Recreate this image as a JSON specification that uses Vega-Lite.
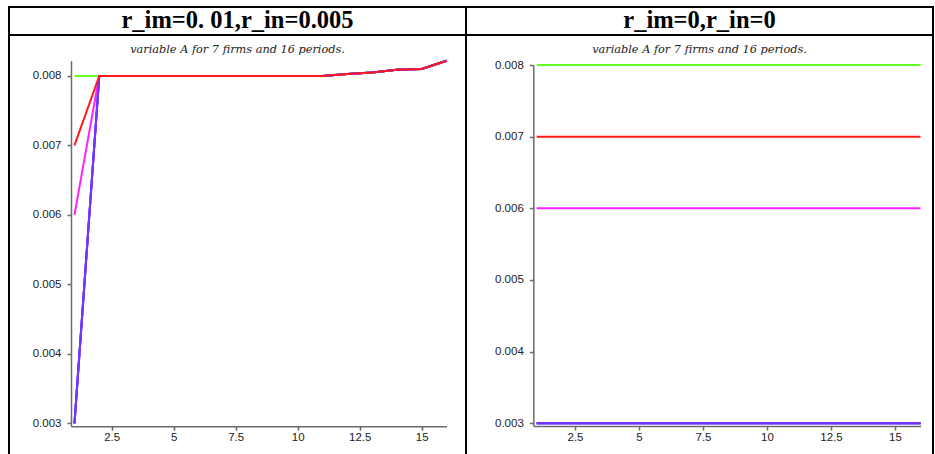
{
  "$schema": "https://vega.github.io/schema/vega-lite/v6.json",
  "padding": {"left": 8, "top": 6, "right": 0, "bottom": 0},
  "autosize": {"type": "pad"},
  "background": "white",
  "config": {
    "view": {"stroke": "#000000", "strokeWidth": 2},
    "axis": {"grid": false, "title": null, "domainColor": "#6b6b6b", "domainWidth": 1.5, "tickColor": "#6b6b6b", "tickWidth": 1.5, "tickSize": 4, "labelFont": "Liberation Sans", "labelFontSize": 11.5, "labelColor": "#222222"},
    "title": {"font": "DejaVu Serif", "fontStyle": "italic", "fontWeight": "normal", "fontSize": 11.3, "color": "#222222", "anchor": "middle", "frame": "group", "offset": -20, "baseline": "alphabetic"}
  },
  "datasets": {
    "titles": [{"panel": "L", "label": "r_im=0. 01,r_in=0.005"}, {"panel": "R", "label": "r_im=0,r_in=0"}],
    "left": [
      {"f":"F1","t":1,"A":0.008},{"f":"F1","t":2,"A":0.008},{"f":"F1","t":3,"A":0.008},{"f":"F1","t":4,"A":0.008},{"f":"F1","t":5,"A":0.008},{"f":"F1","t":6,"A":0.008},{"f":"F1","t":7,"A":0.008},{"f":"F1","t":8,"A":0.008},{"f":"F1","t":9,"A":0.008},{"f":"F1","t":10,"A":0.008},{"f":"F1","t":11,"A":0.008},{"f":"F1","t":12,"A":0.00803},{"f":"F1","t":13,"A":0.00805},{"f":"F1","t":14,"A":0.00809},{"f":"F1","t":15,"A":0.0081},{"f":"F1","t":16,"A":0.00822},
      {"f":"F2","t":1,"A":0.006},{"f":"F2","t":2,"A":0.008},{"f":"F2","t":3,"A":0.008},{"f":"F2","t":4,"A":0.008},{"f":"F2","t":5,"A":0.008},{"f":"F2","t":6,"A":0.008},{"f":"F2","t":7,"A":0.008},{"f":"F2","t":8,"A":0.008},{"f":"F2","t":9,"A":0.008},{"f":"F2","t":10,"A":0.008},{"f":"F2","t":11,"A":0.008},{"f":"F2","t":12,"A":0.00803},{"f":"F2","t":13,"A":0.00805},{"f":"F2","t":14,"A":0.00809},{"f":"F2","t":15,"A":0.0081},{"f":"F2","t":16,"A":0.00822},
      {"f":"F3","t":1,"A":0.003},{"f":"F3","t":2,"A":0.008},{"f":"F3","t":3,"A":0.008},{"f":"F3","t":4,"A":0.008},{"f":"F3","t":5,"A":0.008},{"f":"F3","t":6,"A":0.008},{"f":"F3","t":7,"A":0.008},{"f":"F3","t":8,"A":0.008},{"f":"F3","t":9,"A":0.008},{"f":"F3","t":10,"A":0.008},{"f":"F3","t":11,"A":0.008},{"f":"F3","t":12,"A":0.00803},{"f":"F3","t":13,"A":0.00805},{"f":"F3","t":14,"A":0.00809},{"f":"F3","t":15,"A":0.0081},{"f":"F3","t":16,"A":0.00822},
      {"f":"F4","t":1,"A":0.003},{"f":"F4","t":2,"A":0.008},{"f":"F4","t":3,"A":0.008},{"f":"F4","t":4,"A":0.008},{"f":"F4","t":5,"A":0.008},{"f":"F4","t":6,"A":0.008},{"f":"F4","t":7,"A":0.008},{"f":"F4","t":8,"A":0.008},{"f":"F4","t":9,"A":0.008},{"f":"F4","t":10,"A":0.008},{"f":"F4","t":11,"A":0.008},{"f":"F4","t":12,"A":0.00803},{"f":"F4","t":13,"A":0.00805},{"f":"F4","t":14,"A":0.00809},{"f":"F4","t":15,"A":0.0081},{"f":"F4","t":16,"A":0.00822},
      {"f":"F5","t":1,"A":0.003},{"f":"F5","t":2,"A":0.008},{"f":"F5","t":3,"A":0.008},{"f":"F5","t":4,"A":0.008},{"f":"F5","t":5,"A":0.008},{"f":"F5","t":6,"A":0.008},{"f":"F5","t":7,"A":0.008},{"f":"F5","t":8,"A":0.008},{"f":"F5","t":9,"A":0.008},{"f":"F5","t":10,"A":0.008},{"f":"F5","t":11,"A":0.008},{"f":"F5","t":12,"A":0.00803},{"f":"F5","t":13,"A":0.00805},{"f":"F5","t":14,"A":0.00809},{"f":"F5","t":15,"A":0.0081},{"f":"F5","t":16,"A":0.00822},
      {"f":"F6","t":1,"A":0.003},{"f":"F6","t":2,"A":0.008},{"f":"F6","t":3,"A":0.008},{"f":"F6","t":4,"A":0.008},{"f":"F6","t":5,"A":0.008},{"f":"F6","t":6,"A":0.008},{"f":"F6","t":7,"A":0.008},{"f":"F6","t":8,"A":0.008},{"f":"F6","t":9,"A":0.008},{"f":"F6","t":10,"A":0.008},{"f":"F6","t":11,"A":0.008},{"f":"F6","t":12,"A":0.00803},{"f":"F6","t":13,"A":0.00805},{"f":"F6","t":14,"A":0.00809},{"f":"F6","t":15,"A":0.0081},{"f":"F6","t":16,"A":0.00822},
      {"f":"F7","t":1,"A":0.007},{"f":"F7","t":2,"A":0.008},{"f":"F7","t":3,"A":0.008},{"f":"F7","t":4,"A":0.008},{"f":"F7","t":5,"A":0.008},{"f":"F7","t":6,"A":0.008},{"f":"F7","t":7,"A":0.008},{"f":"F7","t":8,"A":0.008},{"f":"F7","t":9,"A":0.008},{"f":"F7","t":10,"A":0.008},{"f":"F7","t":11,"A":0.008},{"f":"F7","t":12,"A":0.00803},{"f":"F7","t":13,"A":0.00805},{"f":"F7","t":14,"A":0.00809},{"f":"F7","t":15,"A":0.0081},{"f":"F7","t":16,"A":0.00822}
    ],
    "right": [
      {"f":"F1","t":1,"A":0.008},{"f":"F1","t":2,"A":0.008},{"f":"F1","t":3,"A":0.008},{"f":"F1","t":4,"A":0.008},{"f":"F1","t":5,"A":0.008},{"f":"F1","t":6,"A":0.008},{"f":"F1","t":7,"A":0.008},{"f":"F1","t":8,"A":0.008},{"f":"F1","t":9,"A":0.008},{"f":"F1","t":10,"A":0.008},{"f":"F1","t":11,"A":0.008},{"f":"F1","t":12,"A":0.008},{"f":"F1","t":13,"A":0.008},{"f":"F1","t":14,"A":0.008},{"f":"F1","t":15,"A":0.008},{"f":"F1","t":16,"A":0.008},
      {"f":"F2","t":1,"A":0.006},{"f":"F2","t":2,"A":0.006},{"f":"F2","t":3,"A":0.006},{"f":"F2","t":4,"A":0.006},{"f":"F2","t":5,"A":0.006},{"f":"F2","t":6,"A":0.006},{"f":"F2","t":7,"A":0.006},{"f":"F2","t":8,"A":0.006},{"f":"F2","t":9,"A":0.006},{"f":"F2","t":10,"A":0.006},{"f":"F2","t":11,"A":0.006},{"f":"F2","t":12,"A":0.006},{"f":"F2","t":13,"A":0.006},{"f":"F2","t":14,"A":0.006},{"f":"F2","t":15,"A":0.006},{"f":"F2","t":16,"A":0.006},
      {"f":"F3","t":1,"A":0.003},{"f":"F3","t":2,"A":0.003},{"f":"F3","t":3,"A":0.003},{"f":"F3","t":4,"A":0.003},{"f":"F3","t":5,"A":0.003},{"f":"F3","t":6,"A":0.003},{"f":"F3","t":7,"A":0.003},{"f":"F3","t":8,"A":0.003},{"f":"F3","t":9,"A":0.003},{"f":"F3","t":10,"A":0.003},{"f":"F3","t":11,"A":0.003},{"f":"F3","t":12,"A":0.003},{"f":"F3","t":13,"A":0.003},{"f":"F3","t":14,"A":0.003},{"f":"F3","t":15,"A":0.003},{"f":"F3","t":16,"A":0.003},
      {"f":"F4","t":1,"A":0.003},{"f":"F4","t":2,"A":0.003},{"f":"F4","t":3,"A":0.003},{"f":"F4","t":4,"A":0.003},{"f":"F4","t":5,"A":0.003},{"f":"F4","t":6,"A":0.003},{"f":"F4","t":7,"A":0.003},{"f":"F4","t":8,"A":0.003},{"f":"F4","t":9,"A":0.003},{"f":"F4","t":10,"A":0.003},{"f":"F4","t":11,"A":0.003},{"f":"F4","t":12,"A":0.003},{"f":"F4","t":13,"A":0.003},{"f":"F4","t":14,"A":0.003},{"f":"F4","t":15,"A":0.003},{"f":"F4","t":16,"A":0.003},
      {"f":"F5","t":1,"A":0.003},{"f":"F5","t":2,"A":0.003},{"f":"F5","t":3,"A":0.003},{"f":"F5","t":4,"A":0.003},{"f":"F5","t":5,"A":0.003},{"f":"F5","t":6,"A":0.003},{"f":"F5","t":7,"A":0.003},{"f":"F5","t":8,"A":0.003},{"f":"F5","t":9,"A":0.003},{"f":"F5","t":10,"A":0.003},{"f":"F5","t":11,"A":0.003},{"f":"F5","t":12,"A":0.003},{"f":"F5","t":13,"A":0.003},{"f":"F5","t":14,"A":0.003},{"f":"F5","t":15,"A":0.003},{"f":"F5","t":16,"A":0.003},
      {"f":"F6","t":1,"A":0.003},{"f":"F6","t":2,"A":0.003},{"f":"F6","t":3,"A":0.003},{"f":"F6","t":4,"A":0.003},{"f":"F6","t":5,"A":0.003},{"f":"F6","t":6,"A":0.003},{"f":"F6","t":7,"A":0.003},{"f":"F6","t":8,"A":0.003},{"f":"F6","t":9,"A":0.003},{"f":"F6","t":10,"A":0.003},{"f":"F6","t":11,"A":0.003},{"f":"F6","t":12,"A":0.003},{"f":"F6","t":13,"A":0.003},{"f":"F6","t":14,"A":0.003},{"f":"F6","t":15,"A":0.003},{"f":"F6","t":16,"A":0.003},
      {"f":"F7","t":1,"A":0.007},{"f":"F7","t":2,"A":0.007},{"f":"F7","t":3,"A":0.007},{"f":"F7","t":4,"A":0.007},{"f":"F7","t":5,"A":0.007},{"f":"F7","t":6,"A":0.007},{"f":"F7","t":7,"A":0.007},{"f":"F7","t":8,"A":0.007},{"f":"F7","t":9,"A":0.007},{"f":"F7","t":10,"A":0.007},{"f":"F7","t":11,"A":0.007},{"f":"F7","t":12,"A":0.007},{"f":"F7","t":13,"A":0.007},{"f":"F7","t":14,"A":0.007},{"f":"F7","t":15,"A":0.007},{"f":"F7","t":16,"A":0.007}
    ]
  },
  "columns": 2,
  "spacing": 0,
  "bounds": "flush",
  "concat": [
    {
      "width": 457, "height": 28,
      "data": {"name": "titles"},
      "transform": [{"filter": "datum.panel === 'L'"}],
      "mark": {"type": "text", "font": "Liberation Serif", "fontWeight": "bold", "fontSize": 24.5, "color": "#000000"},
      "encoding": {
        "x": {"field": "panel", "type": "nominal", "axis": null},
        "y": {"field": "panel", "type": "nominal", "axis": null},
        "text": {"field": "label"}
      }
    },
    {
      "width": 467, "height": 28,
      "data": {"name": "titles"},
      "transform": [{"filter": "datum.panel === 'R'"}],
      "mark": {"type": "text", "font": "Liberation Serif", "fontWeight": "bold", "fontSize": 24.5, "color": "#000000"},
      "encoding": {
        "x": {"field": "panel", "type": "nominal", "axis": null},
        "y": {"field": "panel", "type": "nominal", "axis": null},
        "text": {"field": "label"}
      }
    },
    {
      "width": 457, "height": 425,
      "title": {"text": "variable A for 7 firms and 16 periods."},
      "data": {"name": "left"},
      "mark": {"type": "line"},
      "encoding": {
        "x": {"field": "t", "type": "quantitative", "scale": {"domain": [0.86, 16], "range": [62, 437.5], "nice": false, "zero": false}, "axis": {"values": [2.5, 5, 7.5, 10, 12.5, 15], "format": ".3~g", "offset": -33.7, "labelPadding": 1}},
        "y": {"field": "A", "type": "quantitative", "scale": {"domain": [0.002957, 0.00822], "range": [391.3, 25.7], "nice": false, "zero": false}, "axis": {"values": [0.003, 0.004, 0.005, 0.006, 0.007, 0.008], "format": ".3f", "offset": -62, "labelPadding": 6}},
        "color": {"field": "f", "type": "nominal", "scale": {"domain": ["F1", "F2", "F3", "F4", "F5", "F6", "F7"], "range": ["#66ff22", "#ff22ff", "#7038ff", "#7038ff", "#7038ff", "#7038ff", "#ff1a1a"]}, "legend": null},
        "strokeWidth": {"field": "f", "type": "nominal", "scale": {"domain": ["F1", "F2", "F3", "F4", "F5", "F6", "F7"], "range": [2, 2, 2, 2, 2, 2, 2.6]}, "legend": null}
      }
    },
    {
      "width": 467, "height": 425,
      "title": {"text": "variable A for 7 firms and 16 periods."},
      "data": {"name": "right"},
      "mark": {"type": "line", "strokeWidth": 2},
      "encoding": {
        "x": {"field": "t", "type": "quantitative", "scale": {"domain": [0.87, 16], "range": [67.3, 454.6], "nice": false, "zero": false}, "axis": {"values": [2.5, 5, 7.5, 10, 12.5, 15], "format": ".3~g", "offset": -34, "labelPadding": 1}},
        "y": {"field": "A", "type": "quantitative", "scale": {"domain": [0.002962, 0.008], "range": [391, 30], "nice": false, "zero": false}, "axis": {"values": [0.003, 0.004, 0.005, 0.006, 0.007, 0.008], "format": ".3f", "offset": -67.3, "labelPadding": 6}},
        "color": {"field": "f", "type": "nominal", "scale": {"domain": ["F1", "F2", "F3", "F4", "F5", "F6", "F7"], "range": ["#66ff22", "#ff22ff", "#7038ff", "#7038ff", "#7038ff", "#7038ff", "#ff1a1a"]}, "legend": null}
      }
    }
  ]
}
